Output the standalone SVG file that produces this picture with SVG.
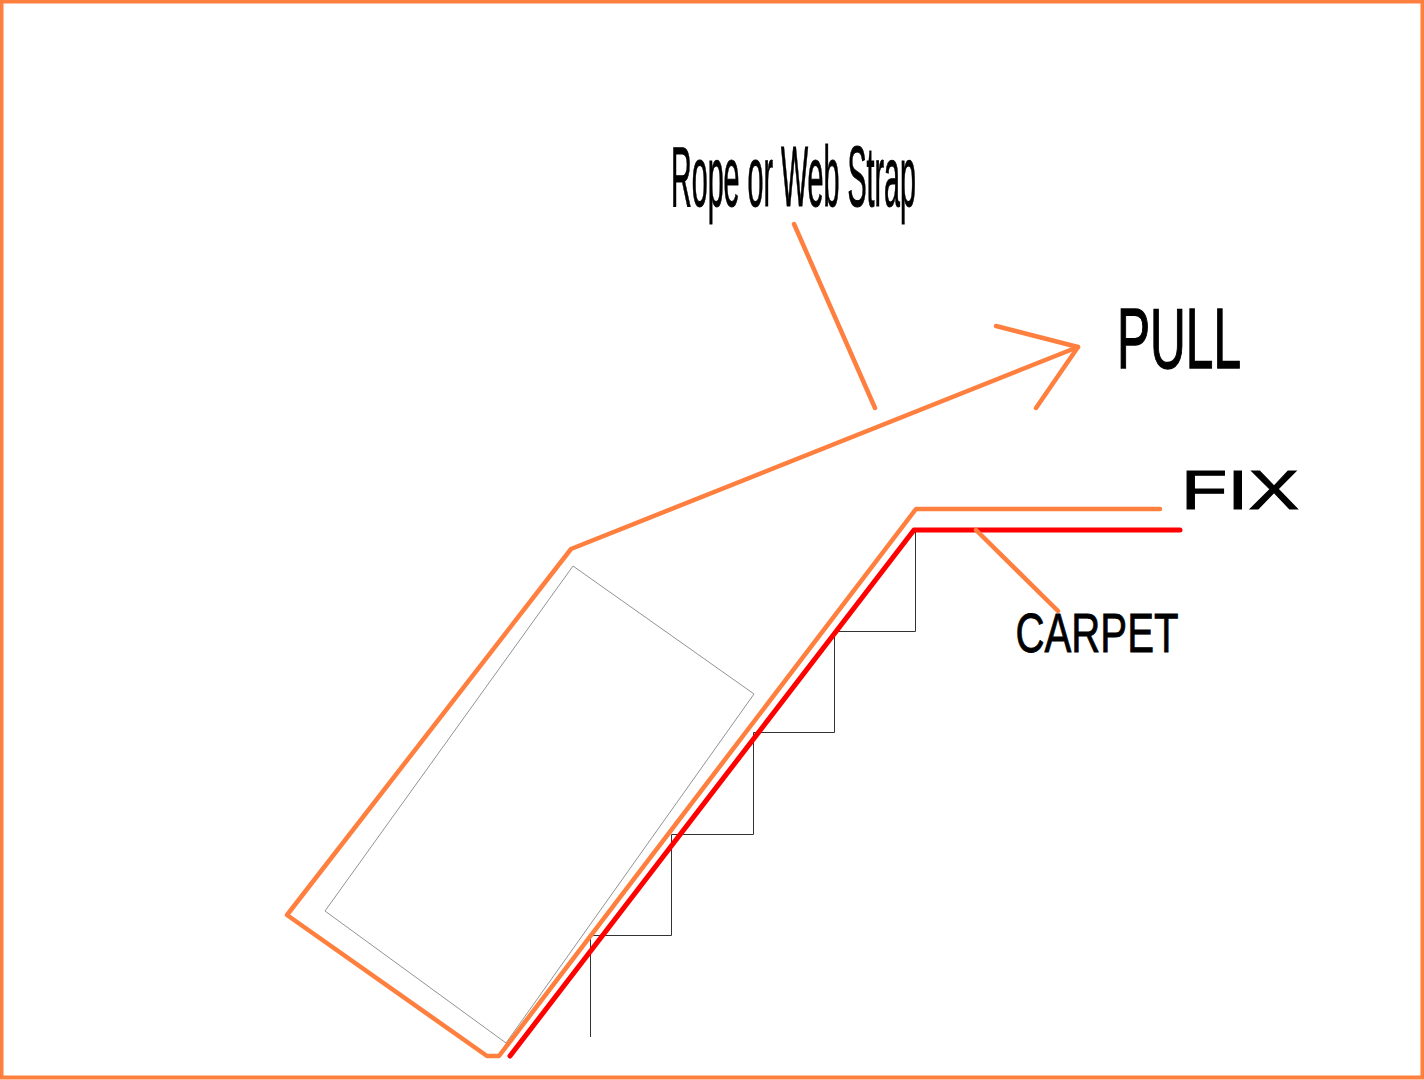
<svg xmlns="http://www.w3.org/2000/svg" width="1424" height="1080" viewBox="0 0 1424 1080">
<style>
.o{fill:none;stroke:#ff7f3f;stroke-width:4.5;stroke-linecap:round;stroke-linejoin:round}
.r{fill:none;stroke:#ff0000;stroke-width:5;stroke-linecap:round;stroke-linejoin:round}
.k{fill:none;stroke:#777;stroke-width:0.8}
.s{fill:none;stroke:#333;stroke-width:1}
text{font-family:"Liberation Sans",Arial,sans-serif;fill:#000;stroke:#000}
</style>
<rect width="1424" height="1080" fill="#fff"/>
<rect x="1.5" y="1.5" width="1421" height="1076" fill="none" stroke="#ff7f3f" stroke-width="4"/>
<g id="stairs"><path class="s" d="M915.500 530V631.500H834.500V732.500H753.500V834.500H671.500V935.500H590.500V1037"/></g>
<g id="box"><path class="k" d="M573 566L754 694L506 1043L325 911Z"/></g>
<g id="connectors">
<path class="r" d="M510 1056L914 530H1180"/>
<path class="o" d="M1078 347L571 549L287 915L487 1056H499L916 509H1160"/>
<path class="o" d="M996 326L1078 347L1036 408"/>
<path class="o" d="M794 224L875 408"/>
<path class="o" d="M976 530L1058 611"/>
</g>
<g id="label-rope"><text x="671" y="206" font-size="85" stroke-width="1" textLength="245" lengthAdjust="spacingAndGlyphs">Rope or Web Strap</text></g>
<g id="label-pull"><text x="1117" y="368" font-size="85" stroke-width="1.400" textLength="124" lengthAdjust="spacingAndGlyphs">PULL</text></g>
<g id="label-fix"><text x="1181" y="509" font-size="56" stroke-width="1" textLength="118" lengthAdjust="spacingAndGlyphs">FIX</text></g>
<g id="label-carpet"><text x="1015.500" y="652" font-size="56" stroke-width="0.800" textLength="163" lengthAdjust="spacingAndGlyphs">CARPET</text></g>
</svg>
